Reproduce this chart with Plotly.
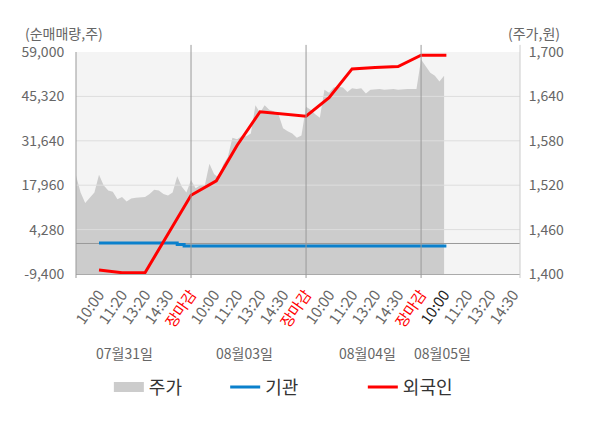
import plotly.graph_objects as go

# x축: 눈금 한 칸 = 5슬롯, 하루 = 25슬롯
days = ["07월31일", "08월03일", "08월04일", "08월05일"]
tick_times = ["10:00", "11:20", "13:20", "14:30", "장마감"]
slots_per_tick = 5
slots_per_day = 25
x_end = 96.5

# 주가(원), 슬롯별
price = [
    1533, 1510, 1496, 1503, 1510, 1534, 1520, 1513, 1511, 1501, 1504, 1498, 1502,
    1503, 1503, 1504, 1508, 1514, 1513, 1508, 1506, 1510, 1532, 1518, 1510,
    1527, 1516, 1520, 1520, 1549, 1535, 1530, 1548, 1558, 1584, 1582, 1586, 1586,
    1590, 1628, 1618, 1628, 1622, 1620, 1616, 1597, 1593, 1590, 1584, 1587,
    1626, 1622, 1616, 1611, 1649, 1645, 1652, 1653, 1652, 1646, 1651, 1650, 1651,
    1644, 1649, 1650, 1650, 1649, 1650, 1650, 1649, 1650, 1650, 1650, 1650,
    1690, 1681, 1672, 1668, 1660, 1668,
]

# 외국인 누적 순매매량(주)
foreign_x = [5, 7.5, 10, 15, 20, 25, 30.5, 35, 40, 45, 50, 55, 60, 65, 70, 75, 80.5]
foreign = [-8200, -8700, -9000, -9000, 2900, 14850, 19300, 30200, 40600, 39800,
           39200, 44900, 53800, 54200, 54500, 58000, 58000]

# 기관 누적 순매매량(주)
inst_x = [5, 10, 15, 20, 22, 23.5, 25, 30, 35, 40, 45, 50, 55, 60, 65, 70, 75, 80.5]
inst = [150, 150, 150, 150, -300, -800, -800, -800, -800, -800, -800, -800, -800,
        -800, -800, -800, -800, -800]

left_ticks = [-9400, 4280, 17960, 31640, 45320, 59000]
right_ticks = [1400, 1460, 1520, 1580, 1640, 1700]

FONT = "Noto Sans CJK KR"

tickvals, ticktext = [], []
for d in range(len(days)):
    for k, t in enumerate(tick_times):
        if d == len(days) - 1 and t == "장마감":
            continue
        tickvals.append(d * slots_per_day + (k + 1) * slots_per_tick)
        if t == "장마감":
            ticktext.append('<span style="color:#ff0000">장마감</span>')
        elif d == len(days) - 1 and k == 0:
            ticktext.append('<span style="color:#222222">%s</span>' % t)
        else:
            ticktext.append(t)

fig = go.Figure()

# 주가 영역
fig.add_trace(go.Scatter(
    x=list(range(len(price))), y=price, mode="lines",
    line=dict(width=0, color="#cccccc"), fill="tozeroy", fillcolor="#cccccc",
    yaxis="y", showlegend=False, hoverinfo="skip",
))
# 범례용
fig.add_trace(go.Scatter(
    x=[None], y=[None], mode="lines", name="주가",
    line=dict(width=10, color="#cccccc"), yaxis="y", legend="legend",
))

# 격자선 (주가 영역 위에 보이도록 선으로 그림)
gx, gy = [], []
for v in left_ticks[1:-1]:
    gx += [0, x_end, None]
    gy += [v, v, None]
fig.add_trace(go.Scatter(
    x=gx, y=gy, mode="lines", line=dict(width=1, color="#dddddd"),
    yaxis="y2", showlegend=False, hoverinfo="skip",
))
fig.add_trace(go.Scatter(
    x=[0, x_end], y=[0, 0], mode="lines", line=dict(width=1, color="#999999"),
    yaxis="y2", showlegend=False, hoverinfo="skip",
))

fig.add_trace(go.Scatter(
    x=inst_x, y=inst, mode="lines", name="기관", line_shape="hv",
    line=dict(width=3, color="#0a80cc"), yaxis="y2", legend="legend2",
))
fig.add_trace(go.Scatter(
    x=foreign_x, y=foreign, mode="lines", name="외국인",
    line=dict(width=3, color="#ff0000"), yaxis="y2", legend="legend3",
))

shapes = []
for d in range(1, len(days)):
    shapes.append(dict(type="line", xref="x", yref="paper",
                       x0=d * slots_per_day, x1=d * slots_per_day, y0=-0.018, y1=1.032,
                       line=dict(color="#999999", width=1)))
shapes.append(dict(type="line", xref="paper", yref="paper", x0=0, x1=0,
                   y0=-0.018, y1=1.0, line=dict(color="#999999", width=1)))
shapes.append(dict(type="line", xref="paper", yref="paper", x0=1, x1=1,
                   y0=-0.018, y1=1.032, line=dict(color="#cccccc", width=1)))

day_pos = [10.6, 36.7, 63.3, 79.6]
annotations = [
    dict(text=t, x=p, xref="x", y=-0.356, yref="paper", yanchor="middle",
         showarrow=False, font=dict(size=14, color="#666666", family=FONT))
    for t, p in zip(days, day_pos)
]
annotations += [
    dict(text="(순매매량,주)", x=-0.12, xref="paper", xanchor="left", y=1.086,
         yref="paper", yanchor="middle", showarrow=False,
         font=dict(size=14, color="#666666", family=FONT)),
    dict(text="(주가,원)", x=1.094, xref="paper", xanchor="right", y=1.086,
         yref="paper", yanchor="middle", showarrow=False,
         font=dict(size=14, color="#666666", family=FONT)),
]

legend_common = dict(orientation="h", yanchor="middle", y=-0.51, xanchor="left",
                     bgcolor="rgba(0,0,0,0)", font=dict(size=18, color="#333333", family=FONT))

fig.update_layout(
    width=600, height=428,
    margin=dict(l=76, r=80, t=52, b=154),
    paper_bgcolor="white", plot_bgcolor="#f4f4f4",
    font=dict(family=FONT, color="#666666"),
    xaxis=dict(range=[0, x_end], tickvals=tickvals, ticktext=ticktext, tickangle=-55,
               tickfont=dict(size=15, color="#666666", family=FONT),
               ticks="outside", ticklen=5, tickcolor="rgba(0,0,0,0)",
               showgrid=False, zeroline=False, showline=True, linecolor="#aaaaaa",
               automargin=False),
    yaxis=dict(range=[1400, 1700], side="right", tickvals=right_ticks,
               ticktext=[f"{v:,}" for v in right_ticks],
               tickfont=dict(size=14, color="#666666", family=FONT),
               ticks="outside", ticklen=5, tickcolor="rgba(0,0,0,0)",
               showgrid=False, zeroline=False, automargin=False),
    yaxis2=dict(range=[-9400, 59000], side="left", overlaying="y", tickvals=left_ticks,
                ticktext=[f"{v:,}" for v in left_ticks],
                tickfont=dict(size=14, color="#666666", family=FONT),
                ticks="outside", ticklen=8, tickcolor="rgba(0,0,0,0)",
                showgrid=False, zeroline=False, automargin=False),
    legend=dict(x=0.074, **legend_common),
    legend2=dict(x=0.336, **legend_common),
    legend3=dict(x=0.646, **legend_common),
    shapes=shapes, annotations=annotations,
    hovermode=False,
)

# 페이지 기본 여백 제거, 툴바 숨김
fig.write_html("out.html", config={"displayModeBar": False},
               post_script="document.body.style.margin='0';")
